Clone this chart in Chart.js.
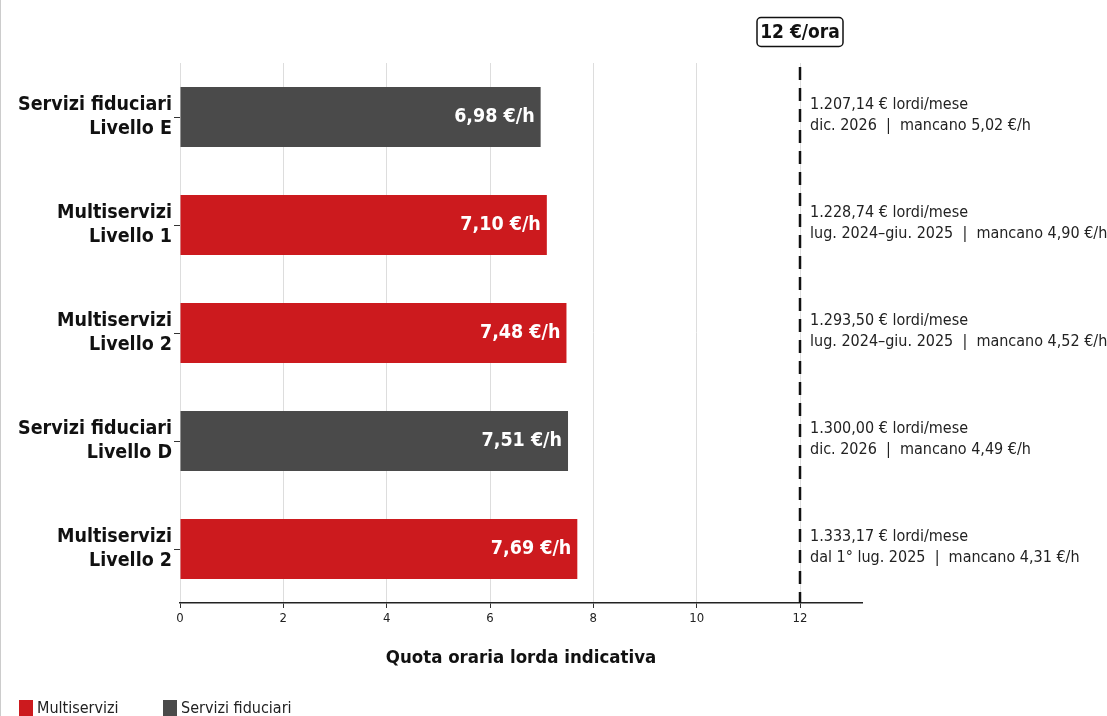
<!DOCTYPE html>
<html>
<head>
<meta charset="utf-8">
<script src="https://cdn.jsdelivr.net/npm/chart.js@4.4.1/dist/chart.umd.min.js"></script>
<style>
  html, body { margin: 0; padding: 0; background: #fff; }
  #wrap { width: 1107px; height: 716px; position: relative; border-left: 1px solid #ccc; box-sizing: border-box; }
</style>
</head>
<body>
<div id="wrap"><canvas id="myChart"></canvas></div>
<script>
const FONT = "'DejaVu Sans Condensed', 'DejaVu Sans', sans-serif";

// data
const categories = [
    ['Servizi fiduciari', 'Livello E'],
    ['Multiservizi', 'Livello 1'],
    ['Multiservizi', 'Livello 2'],
    ['Servizi fiduciari', 'Livello D'],
    ['Multiservizi', 'Livello 2']
];
const sector = ['fid', 'multi', 'multi', 'fid', 'multi'];
const hourly = [6.98, 7.10, 7.48, 7.51, 7.69];
const monthly = ['1.207,14', '1.228,74', '1.293,50', '1.300,00', '1.333,17'];
const period = ['dic. 2026', 'lug. 2024–giu. 2025', 'lug. 2024–giu. 2025', 'dic. 2026', 'dal 1° lug. 2025'];
const target = 12;
const xTicks = [0, 2, 4, 6, 8, 10, 12];

const RED = '#cc1a1e';
const GREY = '#4a4a4a';

const fmt = v => v.toFixed(2).replace('.', ',');

const multiData = hourly.map((v, i) => sector[i] === 'multi' ? v : null);
const fidData = hourly.map((v, i) => sector[i] === 'fid' ? v : null);

const extras = {
    id: 'extras',
    afterDatasetsDraw(chart) {
        const ctx = chart.ctx;
        const x = chart.scales.x, y = chart.scales.y;
        const area = chart.chartArea;

        // bar value labels
        ctx.save();
        ctx.fillStyle = '#fff';
        ctx.font = 'bold 19.5px ' + FONT;
        ctx.textAlign = 'right';
        ctx.textBaseline = 'middle';
        hourly.forEach((v, i) => {
            ctx.fillText(fmt(v) + ' €/h', x.getPixelForValue(v) - 6, y.getPixelForValue(i));
        });
        ctx.restore();

        // target line
        const tx = x.getPixelForValue(target);
        ctx.save();
        ctx.strokeStyle = '#111';
        ctx.lineWidth = 2.5;
        ctx.setLineDash([13, 8]);
        ctx.beginPath();
        ctx.moveTo(tx, area.top + 4);
        ctx.lineTo(tx, area.bottom);
        ctx.stroke();
        ctx.restore();

        // target label box
        ctx.save();
        ctx.font = 'bold 19px ' + FONT;
        ctx.textAlign = 'center';
        ctx.textBaseline = 'middle';
        const txt = '12 €/ora';
        const w = 86;
        const h = 29, by = 32;
        ctx.fillStyle = '#fff';
        ctx.strokeStyle = '#111';
        ctx.lineWidth = 1.5;
        ctx.beginPath();
        ctx.roundRect(tx - w / 2, by - h / 2, w, h, 4);
        ctx.fill();
        ctx.stroke();
        ctx.fillStyle = '#111';
        ctx.fillText(txt, tx, by + 1);
        ctx.restore();

        // annotations
        ctx.save();
        ctx.font = '16px ' + FONT;
        ctx.fillStyle = '#222';
        ctx.textAlign = 'left';
        ctx.textBaseline = 'middle';
        hourly.forEach((v, i) => {
            const cy = y.getPixelForValue(i);
            ctx.fillText(monthly[i] + ' € lordi/mese', tx + 10, cy - 12);
            ctx.fillText(period[i] + '  |  mancano ' + fmt(target - v) + ' €/h', tx + 10, cy + 9);
        });
        ctx.restore();

        // legend
        ctx.save();
        ctx.font = '16px ' + FONT;
        ctx.textAlign = 'left';
        ctx.textBaseline = 'middle';
        const legX = [18, 162];
        chart.data.datasets.forEach((ds, i) => {
            ctx.fillStyle = ds.backgroundColor;
            ctx.fillRect(legX[i], 700, 14, 16);
            ctx.fillStyle = '#222';
            ctx.fillText(ds.label, legX[i] + 18, 709);
        });
        ctx.restore();
    }
};

const ctx = document.getElementById('myChart').getContext('2d');
const myChart = new Chart(ctx, {
    type: 'bar',
    data: {
        labels: categories,
        datasets: [{
            label: 'Multiservizi',
            data: multiData,
            backgroundColor: RED,
            grouped: false,
            barPercentage: 0.556,
            categoryPercentage: 1
        }, {
            label: 'Servizi fiduciari',
            data: fidData,
            backgroundColor: GREY,
            grouped: false,
            barPercentage: 0.556,
            categoryPercentage: 1
        }]
    },
    plugins: [extras],
    options: {
        indexAxis: 'y',
        responsive: true,
        maintainAspectRatio: false,
        animation: false,
        layout: { padding: { top: 63, right: 245, left: 0, bottom: 0 } },
        plugins: {
            tooltip: { enabled: false },
            legend: { display: false }
        },
        scales: {
            x: {
                min: 0,
                max: 13.2,
                afterBuildTicks: s => { s.ticks = xTicks.map(v => ({ value: v })); },
                afterFit: s => { s.height = 113; },
                ticks: {
                    font: { family: FONT, size: 13 },
                    color: '#222',
                    padding: 3
                },
                grid: { color: '#dddddd', tickColor: '#333', tickLength: 5 },
                border: { color: '#222', width: 1.5 },
                title: {
                    display: true,
                    text: 'Quota oraria lorda indicativa',
                    font: { family: FONT, size: 18.5, weight: 'bold' },
                    color: '#111',
                    padding: { top: 4, bottom: 47 }
                }
            },
            y: {
                afterFit: s => { s.width = 179; },
                ticks: {
                    font: { family: FONT, size: 19.5, weight: 'bold' },
                    color: '#111',
                    padding: 2
                },
                grid: { drawOnChartArea: false, offset: false, tickColor: '#333', tickLength: 6 },
                border: { display: false }
            }
        }
    }
});
</script>
</body>
</html>
